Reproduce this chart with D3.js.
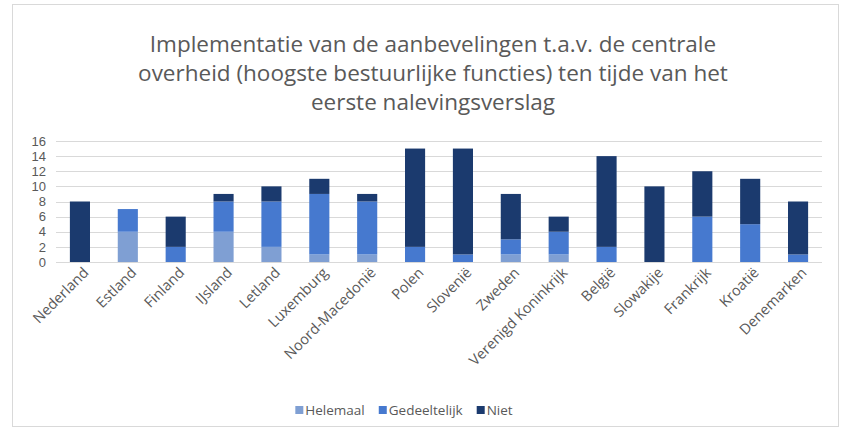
<!DOCTYPE html>
<meta charset="utf-8">
<head>
    <title>Implementatie aanbevelingen</title>
    <script src="https://cdn.jsdelivr.net/npm/d3@7"></script>
</head>

<style>
    body { margin: 0; background: white; }
    text { font-family: "Open Sans", sans-serif; fill: #595959; }
</style>

<svg></svg>

<script>
    // data
    var countries = ["Nederland", "Estland", "Finland", "IJsland", "Letland", "Luxemburg",
        "Noord-Macedonië", "Polen", "Slovenië", "Zweden", "Verenigd Koninkrijk", "België",
        "Slowakije", "Frankrijk", "Kroatië", "Denemarken"];
    var helemaal     = [0, 4, 0, 4, 2, 1, 1, 0, 0, 1, 1, 0, 0, 0, 0, 0];
    var gedeeltelijk = [0, 3, 2, 4, 6, 8, 7, 2, 1, 2, 3, 2, 0, 6, 5, 1];
    var niet         = [8, 0, 4, 1, 2, 2, 1, 13, 14, 6, 2, 12, 10, 6, 6, 7];
    var seriesNames = ["Helemaal", "Gedeeltelijk", "Niet"];
    var colors = ["#7f9fd3", "#4679cf", "#1b3a6e"];
    var yTicks = [0, 2, 4, 6, 8, 10, 12, 14, 16];
    var titleLines = ["Implementatie van de aanbevelingen t.a.v. de centrale",
        "overheid (hoogste bestuurlijke functies) ten tijde van het",
        "eerste nalevingsverslag"];

    var W = 843, H = 433;
    var svg = d3.select('svg').attr('width', W).attr('height', H);

    // chart border
    svg.append('rect')
        .attr('x', 12.5).attr('y', 4.5).attr('width', 826).attr('height', 422)
        .attr('fill', 'white').attr('stroke', '#d9d9d9');

    // title
    svg.append('g').selectAll('text').data(titleLines).enter()
        .append('text')
        .attr('x', 433).attr('y', function (d, i) { return 52 + i * 29; })
        .attr('text-anchor', 'middle')
        .style('font-size', '22.5px')
        .text(function (d) { return d; });

    var plotLeft = 56, plotRight = 822, plotTop = 141, plotBottom = 262;

    var x = d3.scaleBand().domain(countries).range([plotLeft, plotRight]).paddingInner(0.58).paddingOuter(0.29);
    var y = d3.scaleLinear().domain([0, 16]).range([plotBottom, plotTop]);

    // gridlines
    svg.append('g').selectAll('line').data(yTicks).enter()
        .append('line')
        .attr('x1', plotLeft).attr('x2', plotRight)
        .attr('y1', function (d) { return Math.round(y(d)) + 0.5; })
        .attr('y2', function (d) { return Math.round(y(d)) + 0.5; })
        .attr('stroke', '#d9d9d9');

    // y labels (tight spacing, so a font with compact line metrics)
    var yAxis = svg.append('g').attr('transform', 'translate(' + (plotLeft - 10) + ',0)')
        .call(d3.axisLeft(y).tickValues(yTicks).tickSize(0).tickPadding(0));
    yAxis.select('.domain').remove();
    yAxis.selectAll('text').style('font-size', '13px').style('fill', '#595959')
        .style('font-family', '"Liberation Sans", sans-serif');

    // stacked bars
    var rows = countries.map(function (c, i) {
        return {country: c, Helemaal: helemaal[i], Gedeeltelijk: gedeeltelijk[i], Niet: niet[i]};
    });
    var stacked = d3.stack().keys(seriesNames)(rows);

    svg.append('g').selectAll('g').data(stacked).enter()
        .append('g').attr('fill', function (d, i) { return colors[i]; })
        .selectAll('rect').data(function (d) { return d; }).enter()
        .append('rect')
        .attr('x', function (d) { return x(d.data.country); })
        .attr('width', x.bandwidth())
        .attr('y', function (d) { return y(d[1]); })
        .attr('height', function (d) { return y(d[0]) - y(d[1]); });

    // x axis line
    svg.append('line')
        .attr('x1', plotLeft).attr('x2', plotRight)
        .attr('y1', plotBottom + 0.5).attr('y2', plotBottom + 0.5)
        .attr('stroke', '#d9d9d9');

    // x labels
    svg.append('g').selectAll('text').data(countries).enter()
        .append('text')
        .attr('transform', function (d) {
            return 'translate(' + (x(d) + x.bandwidth() / 2 + 6) + ',' + (plotBottom + 8) + ') rotate(-45)';
        })
        .attr('text-anchor', 'end')
        .attr('dy', '0.35em')
        .style('font-size', '14.5px')
        .text(function (d) { return d; });

    // legend, centred under the plot
    var legend = svg.append('g');
    var items = legend.selectAll('g').data(seriesNames).enter().append('g');
    items.append('rect')
        .attr('x', 0).attr('y', -4).attr('width', 8).attr('height', 8)
        .attr('fill', function (d, i) { return colors[i]; });
    items.append('text')
        .attr('x', 10).attr('y', 0).attr('dy', '0.35em')
        .style('font-size', '13.5px')
        .text(function (d) { return d; });
    var pos = 0, offsets = [];
    items.each(function () {
        offsets.push(pos);
        pos += 10 + d3.select(this).select('text').node().getComputedTextLength() + 14;
    });
    var total = pos - 14;
    items.attr('transform', function (d, i) { return 'translate(' + offsets[i] + ',0)'; });
    legend.attr('transform', 'translate(' + (404 - total / 2) + ',410)');
</script>
